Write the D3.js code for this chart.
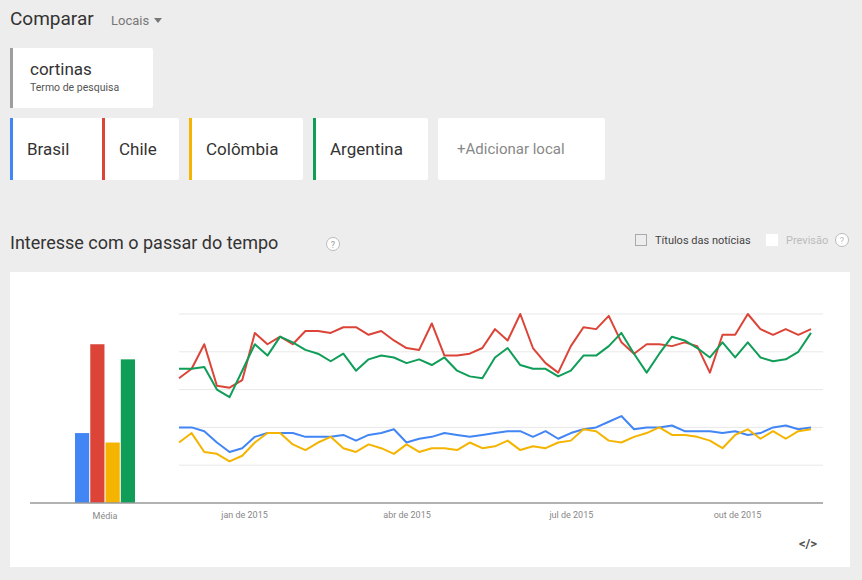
<!DOCTYPE html>
<html><head><meta charset="utf-8">
<script src="https://cdn.jsdelivr.net/npm/d3@7/dist/d3.min.js"></script>
<style>body{margin:0;background:#eeedee;font-family:Roboto,Arial,sans-serif;}</style>
</head><body><svg id="c" width="862" height="580"></svg>
<script>
const countries=["Brasil","Chile","Colômbia","Argentina"];
const colors=["#4285f4","#db4437","#f4b400","#0f9d58"];
const averages=[37,84,32,76];
const brasil=[40,40,38,32,27,29,35,37,37,37,35,35,35,36,33,36,37,39,32,34,35,37,36,35,36,37,38,38,35,38,34,37,39,40,43,46,39,40,40,41,38,38,38,37,38,36,37,40,41,39,40];
const chile=[66,71,84,62,61,65,90,84,88,84,91,91,90,93,93,89,91,86,82,81,95,78,78,79,82,92,86,100,82,74,69,83,93,92,99,85,79,84,84,83,85,83,69,89,89,100,92,89,92,89,92];
const colombia=[32,37,27,26,22,25,32,37,37,31,28,32,35,29,27,31,29,26,31,27,29,29,28,32,29,30,33,28,30,29,32,33,39,38,33,32,35,37,40,36,36,35,33,29,36,39,34,38,34,38,39];
const argentina=[71,71,72,60,56,70,84,78,88,85,81,79,75,79,70,76,78,77,74,76,73,77,70,67,66,77,82,73,71,71,67,70,78,78,83,90,79,69,79,88,86,82,77,85,77,85,77,75,76,80,90];
const series=[brasil,chile,colombia,argentina];
const startDate=new Date(2014,10,26);
const dates=brasil.map((_,i)=>d3.timeDay.offset(startDate,i*7));
const tickDates=[new Date(2015,0,1),new Date(2015,3,1),new Date(2015,6,1),new Date(2015,9,1)];
const tickLabels=["jan de 2015","abr de 2015","jul de 2015","out de 2015"];
const gridVals=[20,40,60,80,100];

const svg=d3.select("#c");
const txt=(x,y,s,size,fill,anchor)=>svg.append("text").attr("x",x).attr("y",y).text(s).attr("font-size",size).attr("fill",fill).attr("text-anchor",anchor||"start");
txt(10,25,"Comparar",19,"#333");
txt(111,25,"Locais",13,"#777");
svg.append("path").attr("d","M154,18 L162,18 L158,23Z").attr("fill","#777");
// term card
svg.append("rect").attr("x",10).attr("y",48).attr("width",143).attr("height",60).attr("rx",2).attr("fill","#fff");
svg.append("rect").attr("x",10).attr("y",48).attr("width",3).attr("height",60).attr("fill","#9e9e9e");
txt(30,75,"cortinas",17,"#333");
txt(30,91,"Termo de pesquisa",10.5,"#555");
const cards=[[10,92],[102,77],[189,114],[313,115]];
cards.forEach((c,i)=>{
  svg.append("rect").attr("x",c[0]).attr("y",118).attr("width",c[1]).attr("height",62).attr("rx",2).attr("fill","#fff");
  svg.append("rect").attr("x",c[0]).attr("y",118).attr("width",3).attr("height",62).attr("fill",colors[i]);
  txt(c[0]+17,155,countries[i],17,"#333");
});
svg.append("rect").attr("x",438).attr("y",118).attr("width",167).attr("height",62).attr("rx",2).attr("fill","#fff");
txt(457,154,"+Adicionar local",15,"#888");
txt(10,249,"Interesse com o passar do tempo",18,"#333");
const help=(x,y,c)=>{svg.append("circle").attr("cx",x).attr("cy",y).attr("r",6.5).attr("fill","#fff").attr("stroke","#bbb");txt(x,y+3.5,"?",9,c,"middle");};
help(333,244,"#999");
svg.append("rect").attr("x",635.5).attr("y",234.5).attr("width",11).attr("height",11).attr("fill","none").attr("stroke","#aaa");
txt(655,244,"Títulos das notícias",11,"#444");
svg.append("rect").attr("x",766).attr("y",234).attr("width",12).attr("height",12).attr("fill","#fff");
txt(786,244,"Previsão",11,"#bbb");
help(842,240,"#bbb");
// chart card
svg.append("rect").attr("x",10).attr("y",272).attr("width",840).attr("height",295).attr("fill","#fff");
const y=d3.scaleLinear().domain([0,100]).range([503,314]);
const x=d3.scaleTime().domain([dates[0],dates[dates.length-1]]).range([179,811]);
svg.append("g").selectAll("line").data(gridVals).join("line")
 .attr("x1",179).attr("x2",823).attr("y1",d=>y(d)).attr("y2",d=>y(d)).attr("stroke","#e8e8e8");
const xb=d3.scaleBand().domain(countries).range([75,135]).paddingInner(0.07);
svg.append("g").selectAll("rect").data(averages).join("rect")
 .attr("x",(d,i)=>xb(countries[i])).attr("width",xb.bandwidth()).attr("y",d=>y(d)).attr("height",d=>y(0)-y(d)).attr("fill",(d,i)=>colors[i]);
svg.append("line").attr("x1",30).attr("x2",823).attr("y1",503).attr("y2",503).attr("stroke","#999").attr("stroke-width",1.3);
txt(105,519,"Média",9,"#888","middle");
const line=d3.line().x((d,i)=>x(dates[i])).y(d=>y(d));
[1,3,0,2].forEach(k=>svg.append("path").datum(series[k]).attr("d",line).attr("fill","none").attr("stroke",colors[k]).attr("stroke-width",2).attr("stroke-linejoin","round"));
const ax=svg.append("g").attr("transform","translate(0,503)").call(d3.axisBottom(x).tickValues(tickDates).tickFormat((d,i)=>tickLabels[i]).tickSize(0).tickPadding(9));
ax.select(".domain").remove();
ax.selectAll("text").attr("font-size",9).attr("fill","#888").attr("font-family","Roboto,Arial,sans-serif");
txt(808,548,"</>",13,"#555","middle").attr("font-weight","bold");
</script></body></html>
